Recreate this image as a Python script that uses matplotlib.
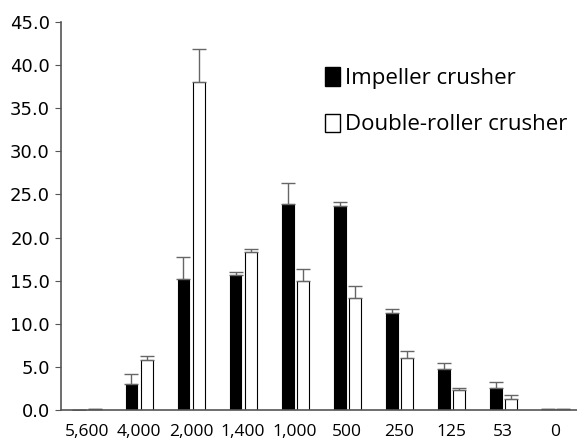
import numpy as np
import matplotlib
matplotlib.use("Agg")
import matplotlib.pyplot as plt
from matplotlib.patches import Patch

plt.rcParams['font.family'] = ['Open Sans', 'DejaVu Sans']

# data
sizes = ["5,600", "4,000", "2,000", "1,400", "1,000", "500", "250", "125", "53", "0"]
impeller = [0.0, 3.0, 15.2, 15.6, 23.9, 23.7, 11.2, 4.8, 2.6, 0.1]
impeller_err = [0.0, 1.2, 2.6, 0.4, 2.4, 0.4, 0.5, 0.6, 0.7, 0.0]
roller = [0.1, 5.8, 38.0, 18.3, 15.0, 13.0, 6.0, 2.3, 1.3, 0.1]
roller_err = [0.0, 0.5, 3.9, 0.4, 1.3, 1.4, 0.9, 0.3, 0.4, 0.0]

x = np.arange(len(sizes))
w = 0.23
off = 0.145

fig = plt.figure(figsize=(5.77, 4.45), dpi=100)
ax = fig.add_axes([61/577, 35/445, 516/577, 388/445])

ekw = dict(ecolor="#666666", elinewidth=1.0, capsize=5, capthick=1.0)
ax.bar(x - off, impeller, w, color="black", edgecolor="black", linewidth=0.8,
       yerr=[np.zeros(len(x)), impeller_err], error_kw=ekw)
ax.bar(x + off, roller, w, color="white", edgecolor="black", linewidth=0.8,
       yerr=[np.zeros(len(x)), roller_err], error_kw=ekw)

ax.set_xlim(-0.5, 9.42)
ax.set_ylim(0, 45)
yt = np.arange(0, 46, 5)
ax.set_yticks(yt)
ax.set_yticklabels([f"{v:.1f}" for v in yt], family="DejaVu Sans", fontsize=13)
ax.set_xticks(x)
ax.set_xticklabels(sizes, fontsize=12.5)
ax.tick_params(axis="y", length=4, color="#555555", pad=4)
ax.tick_params(axis="x", length=0, pad=10)

for s in ["top", "right"]:
    ax.spines[s].set_visible(False)
for s in ["left", "bottom"]:
    ax.spines[s].set_color("#555555")
    ax.spines[s].set_linewidth(1.2)

handles = [Patch(facecolor="black", edgecolor="black", label="Impeller crusher"),
           Patch(facecolor="white", edgecolor="black", label="Double-roller crusher")]
ax.legend(handles=handles, loc="upper left", bbox_to_anchor=(0.472, 0.935),
          frameon=False, fontsize=16, handlelength=0.7, handleheight=0.9,
          handletextpad=0.2, labelspacing=1.1)

fig.savefig("out.png", dpi=100)
